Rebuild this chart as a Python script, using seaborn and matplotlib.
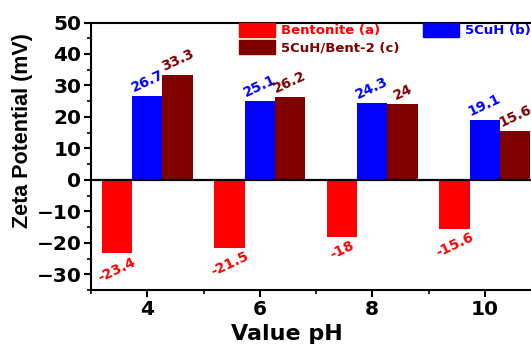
import numpy as np
import pandas as pd
import matplotlib.pyplot as plt
import matplotlib.patches as mpatches
from matplotlib.ticker import MultipleLocator
import seaborn as sns

# ---- data ----
ph_values = [4, 6, 8, 10]
bentonite = [-23.4, -21.5, -18, -15.6]
cuh = [26.7, 25.1, 24.3, 19.1]
cuh_bent = [33.3, 26.2, 24, 15.6]
samples = ['Bentonite (a)', '5CuH (b)', '5CuH/Bent-2 (c)']
colors = ['#FF0000', '#0000FF', '#800000']

df = pd.DataFrame({
    'pH': ph_values * 3,
    'zeta': bentonite + cuh + cuh_bent,
    'sample': [samples[0]] * 4 + [samples[1]] * 4 + [samples[2]] * 4,
})

sns.set_style('ticks')
plt.rcParams['font.family'] = ['DejaVu Sans']
plt.rcParams['font.weight'] = 'bold'
plt.rcParams['axes.labelweight'] = 'bold'
for k in ['text.color', 'axes.labelcolor', 'xtick.color', 'ytick.color', 'axes.edgecolor']:
    plt.rcParams[k] = 'black'

fig = plt.figure(figsize=(5.31, 3.44), dpi=100)
ax = fig.add_axes([91 / 531, 1 - 290 / 344, 450 / 531, 267.5 / 344])

sns.barplot(data=df, x='pH', y='zeta', hue='sample', hue_order=samples,
            palette=colors, native_scale=True, width=0.81, gap=0,
            dodge=True, legend=False, errorbar=None, ax=ax, saturation=1,
            linewidth=0)

# value labels on the bars
for cont, c in zip(ax.containers, colors):
    ax.bar_label(cont, fmt='%g', rotation=25, color=c, fontsize=10,
                 fontweight='bold', padding=1)

ax.axhline(0, color='black', lw=1.6, zorder=3)

ax.set_xlim(3, 11)
ax.set_ylim(-35, 50)
ax.set_xticks([4, 6, 8, 10])
ax.xaxis.set_minor_locator(MultipleLocator(1))
ax.set_yticks([-30, -20, -10, 0, 10, 20, 30, 40, 50])
ax.yaxis.set_minor_locator(MultipleLocator(5))
ax.tick_params(axis='both', which='major', direction='out', length=5, width=1.5,
               labelsize=14.5, pad=2)
ax.tick_params(axis='both', which='minor', direction='out', length=3, width=1.2)
for lab in ax.get_xticklabels() + ax.get_yticklabels():
    lab.set_fontweight('bold')
for sp in ax.spines.values():
    sp.set_linewidth(1.5)
    sp.set_visible(True)

ax.set_xlabel('Value pH', fontsize=16, fontweight='bold')
ax.xaxis.set_label_coords(0.436, -0.127)
ax.set_ylabel('Zeta Potential (mV)', fontsize=15.5, fontweight='bold',
              family=['Liberation Sans', 'DejaVu Sans'])
ax.yaxis.set_label_coords(-0.129, 0.597)

# legend (row order: a, b / c)
handles = [mpatches.Patch(color=colors[i], label=samples[i]) for i in (0, 2, 1)]
ax.legend(handles=handles, ncol=2, frameon=False, loc='upper left',
          bbox_to_anchor=(239 / 531, 1 - 23 / 344), bbox_transform=fig.transFigure,
          handlelength=2.73, handleheight=1.2, handletextpad=0.45,
          columnspacing=1.75, labelspacing=0.23, borderpad=0, borderaxespad=0,
          labelcolor=[colors[0], colors[2], colors[1]],
          prop={'weight': 'bold', 'size': 9.5})

fig.savefig('out.png', dpi=100)
